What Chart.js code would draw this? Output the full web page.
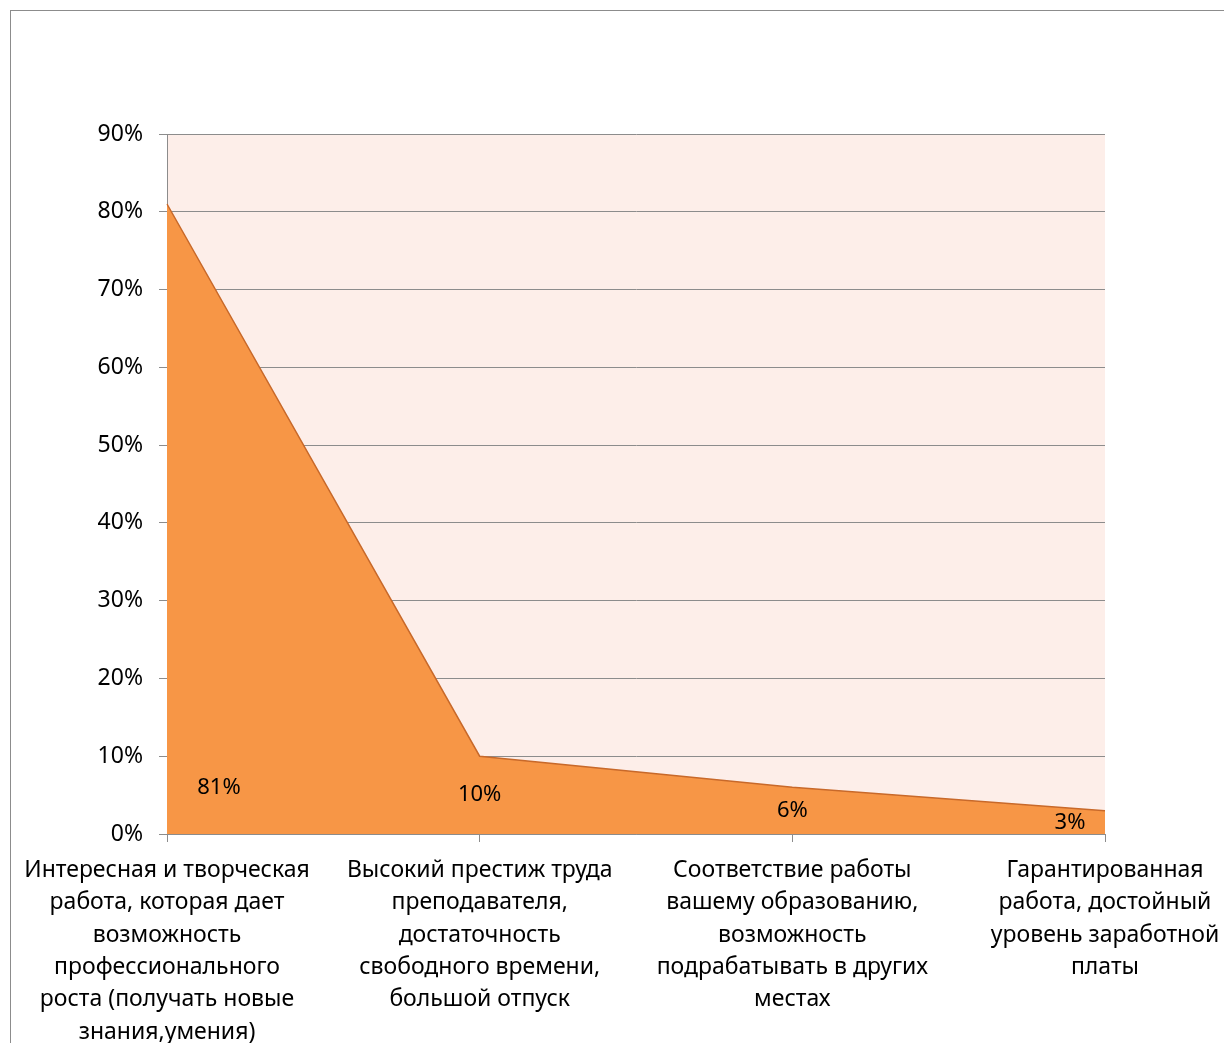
<!DOCTYPE html>
<html lang="ru">
<head>
    <meta charset="UTF-8">
    <title>Мотивы выбора профессии</title>
    <script src="https://cdn.jsdelivr.net/npm/chart.js"></script>
    <style>
        body {
            margin: 0;
            background-color: #ffffff;
            overflow: hidden;
        }

        .frame {
            position: absolute;
            left: 10px;
            top: 10px;
            width: 1240px;
            height: 1100px;
            border: 1px solid #8c8c8c;
        }

        canvas {
            position: absolute;
            left: 0;
            top: 0;
        }
    </style>
</head>
<body>
    <div class="frame"></div>
    <canvas id="chart" width="1224" height="1043"></canvas>

    <script>
        const categories = [
            ['Интересная и творческая', 'работа, которая дает', 'возможность', 'профессионального', 'роста (получать новые', 'знания,умения)'],
            ['Высокий престиж труда', 'преподавателя,', 'достаточность', 'свободного времени,', 'большой отпуск'],
            ['Соответствие работы', 'вашему образованию,', 'возможность', 'подрабатывать в других', 'местах'],
            ['Гарантированная', 'работа, достойный', 'уровень заработной', 'платы']
        ];
        const values = [81, 10, 6, 3];
        const valueLabels = ['81%', '10%', '6%', '3%'];

        const fontFamily = '"Noto Sans", "Open Sans", sans-serif';

        // фон области построения
        const plotBackground = {
            id: 'plotBackground',
            beforeDraw(chart) {
                const { ctx, chartArea } = chart;
                ctx.save();
                ctx.fillStyle = '#fdeee9';
                ctx.fillRect(chartArea.left, chartArea.top, chartArea.right - chartArea.left, chartArea.bottom - chartArea.top);
                ctx.restore();
            }
        };

        // подписи значений внутри области
        const valueText = {
            id: 'valueText',
            afterDatasetsDraw(chart) {
                const { ctx, scales } = chart;
                const last = values.length - 1;
                ctx.save();
                ctx.font = '22px ' + fontFamily;
                ctx.fillStyle = '#000000';
                ctx.textBaseline = 'middle';
                ctx.textAlign = 'center';
                values.forEach((v, i) => {
                    let x = scales.x.getPixelForValue(i);
                    const y = scales.y.getPixelForValue(Math.min(v, 12) / 2);
                    if (i === 0) x += 52;
                    if (i === last) x -= 35;
                    ctx.fillText(valueLabels[i], x, y);
                });
                ctx.restore();
            }
        };

        const ctx = document.getElementById('chart').getContext('2d');
        const chart = new Chart(ctx, {
            type: 'line',
            data: {
                labels: categories,
                datasets: [{
                    data: values,
                    fill: 'origin',
                    backgroundColor: '#f79646',
                    borderColor: '#c8692a',
                    borderWidth: 1.5,
                    pointRadius: 0,
                    tension: 0
                }]
            },
            options: {
                responsive: false,
                devicePixelRatio: 1,
                animation: false,
                layout: {
                    padding: { left: 10, top: 134, right: 119, bottom: 0 }
                },
                plugins: {
                    legend: { display: false },
                    tooltip: { enabled: false }
                },
                scales: {
                    x: {
                        offset: false,
                        grid: {
                            drawOnChartArea: false,
                            color: '#8c8c8c',
                            tickLength: 8
                        },
                        border: { color: '#8c8c8c' },
                        ticks: {
                            color: '#000000',
                            maxRotation: 0,
                            autoSkip: false,
                            padding: 12,
                            font: { family: fontFamily, size: 23, lineHeight: 1.41 }
                        },
                        afterFit(scale) {
                            scale.height = 209;
                            scale.paddingLeft = 0;
                            scale.paddingRight = 0;
                        }
                    },
                    y: {
                        min: 0,
                        max: 90,
                        grid: {
                            color: '#8c8c8c',
                            tickLength: 8
                        },
                        border: { color: '#8c8c8c' },
                        ticks: {
                            stepSize: 10,
                            color: '#000000',
                            padding: 16,
                            font: { family: fontFamily, size: 23 },
                            callback: v => v + '%'
                        },
                        afterFit(scale) {
                            scale.width = 157;
                            scale.paddingTop = 0;
                            scale.paddingBottom = 0;
                        }
                    }
                }
            },
            plugins: [plotBackground, valueText]
        });
    </script>
</body>
</html>
